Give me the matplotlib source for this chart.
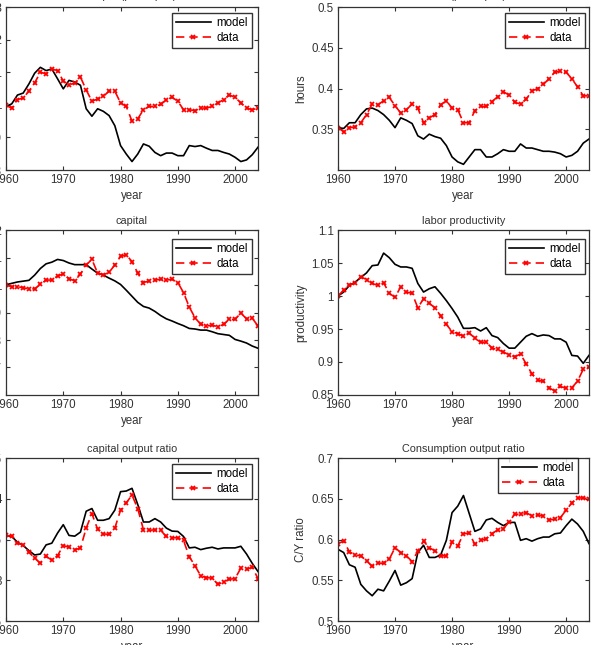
#model vs data, six panels
import matplotlib
matplotlib.use("Agg")
import matplotlib.pyplot as plt
from matplotlib.ticker import FuncFormatter

plt.rcParams['font.family'] = ['Liberation Sans', 'DejaVu Sans']
plt.rcParams['font.size'] = 8.3

years = list(range(1960, 2005))

#output
output_model = [0.995, 1.003, 1.03, 1.036, 1.064, 1.097, 1.115, 1.105, 1.11, 1.08,
                1.049, 1.075, 1.07, 1.06, 0.988, 0.965, 0.988, 0.98, 0.967, 0.936,
                0.875, 0.849, 0.826, 0.849, 0.88, 0.873, 0.854, 0.844, 0.852, 0.852,
                0.844, 0.844, 0.875, 0.872, 0.875, 0.867, 0.86, 0.86, 0.854, 0.849,
                0.839, 0.826, 0.831, 0.847, 0.87]
output_data = [0.998, 0.99, 1.016, 1.021, 1.042, 1.067, 1.1, 1.095, 1.11, 1.105,
               1.073, 1.062, 1.066, 1.085, 1.046, 1.011, 1.018, 1.026, 1.042, 1.042,
               1.006, 0.995, 0.95, 0.957, 0.985, 0.995, 0.995, 1.001, 1.016, 1.023,
               1.011, 0.985, 0.985, 0.982, 0.99, 0.99, 0.995, 1.006, 1.016, 1.03,
               1.023, 1.006, 0.99, 0.985, 0.99]

#hours
hours_model = [0.352, 0.351, 0.358, 0.358, 0.368, 0.375, 0.376, 0.373, 0.368, 0.361,
               0.352, 0.364, 0.361, 0.357, 0.342, 0.338, 0.344, 0.341, 0.339, 0.330,
               0.316, 0.310, 0.307, 0.316, 0.325, 0.325, 0.316, 0.316, 0.320, 0.325,
               0.323, 0.323, 0.332, 0.327, 0.327, 0.325, 0.323, 0.323, 0.322, 0.320,
               0.316, 0.318, 0.323, 0.333, 0.338]
hours_data = [0.352, 0.347, 0.352, 0.353, 0.358, 0.368, 0.381, 0.380, 0.385, 0.389,
              0.379, 0.370, 0.374, 0.381, 0.376, 0.358, 0.364, 0.368, 0.380, 0.385,
              0.376, 0.374, 0.358, 0.358, 0.373, 0.378, 0.378, 0.384, 0.390, 0.396,
              0.392, 0.383, 0.381, 0.387, 0.397, 0.400, 0.405, 0.412, 0.420, 0.421,
              0.420, 0.412, 0.402, 0.391, 0.391]

#capital
capital_model = [1.001, 1.006, 1.011, 1.014, 1.017, 1.036, 1.06, 1.077, 1.083, 1.093,
                 1.089, 1.08, 1.074, 1.074, 1.074, 1.058, 1.043, 1.036, 1.025, 1.015,
                 1.002, 0.981, 0.959, 0.937, 0.922, 0.916, 0.904, 0.889, 0.877, 0.869,
                 0.86, 0.852, 0.842, 0.84, 0.836, 0.836, 0.83, 0.823, 0.82, 0.817,
                 0.802, 0.796, 0.789, 0.778, 0.77]
capital_data = [0.999, 0.994, 0.994, 0.99, 0.986, 0.986, 1.002, 1.018, 1.018, 1.033,
                1.04, 1.023, 1.015, 1.04, 1.073, 1.093, 1.043, 1.037, 1.046, 1.073,
                1.104, 1.11, 1.085, 1.043, 1.009, 1.015, 1.018, 1.021, 1.018, 1.021,
                1.009, 0.972, 0.92, 0.881, 0.857, 0.851, 0.854, 0.848, 0.857, 0.875,
                0.875, 0.898, 0.877, 0.879, 0.851]

#labor productivity
prod_model = [1.0, 1.006, 1.016, 1.021, 1.028, 1.035, 1.046, 1.047, 1.065, 1.058,
              1.048, 1.044, 1.044, 1.042, 1.019, 1.006, 1.011, 1.014, 1.004, 0.993,
              0.981, 0.968, 0.951, 0.951, 0.952, 0.947, 0.952, 0.94, 0.937, 0.928,
              0.921, 0.921, 0.93, 0.939, 0.943, 0.939, 0.941, 0.94, 0.935, 0.935,
              0.93, 0.91, 0.909, 0.898, 0.91]
prod_data = [1.0, 1.009, 1.016, 1.02, 1.029, 1.025, 1.019, 1.016, 1.02, 1.004,
             0.998, 1.014, 1.006, 1.004, 0.982, 0.996, 0.989, 0.982, 0.97, 0.957,
             0.946, 0.943, 0.939, 0.944, 0.936, 0.93, 0.93, 0.921, 0.919, 0.915,
             0.911, 0.908, 0.912, 0.897, 0.882, 0.872, 0.871, 0.861, 0.856, 0.863,
             0.86, 0.861, 0.871, 0.889, 0.892]

#capital output ratio
ky_model = [3.55, 3.537, 3.467, 3.426, 3.364, 3.31, 3.322, 3.434, 3.455, 3.579,
            3.682, 3.55, 3.541, 3.591, 3.847, 3.88, 3.736, 3.736, 3.756, 3.86,
            4.087, 4.095, 4.128, 3.93, 3.715, 3.715, 3.756, 3.715, 3.64, 3.603,
            3.599, 3.537, 3.397, 3.405, 3.376, 3.393, 3.405, 3.384, 3.397, 3.397,
            3.397, 3.417, 3.322, 3.207, 3.107]
ky_data = [3.55, 3.541, 3.455, 3.434, 3.343, 3.273, 3.207, 3.293, 3.248, 3.302,
           3.426, 3.405, 3.376, 3.393, 3.64, 3.818, 3.624, 3.57, 3.562, 3.64,
           3.86, 3.95, 4.045, 3.88, 3.62, 3.612, 3.62, 3.612, 3.537, 3.521,
           3.521, 3.488, 3.289, 3.178, 3.054, 3.033, 3.025, 2.95, 2.979, 3.012,
           3.021, 3.149, 3.136, 3.157, 3.021]

#consumption output ratio
cy_model = [0.588, 0.584, 0.569, 0.566, 0.545, 0.537, 0.531, 0.539, 0.537, 0.549,
            0.562, 0.544, 0.547, 0.552, 0.584, 0.593, 0.578, 0.578, 0.581, 0.599,
            0.633, 0.641, 0.654, 0.632, 0.610, 0.613, 0.624, 0.626, 0.621, 0.617,
            0.621, 0.621, 0.599, 0.601, 0.598, 0.601, 0.603, 0.603, 0.607, 0.608,
            0.617, 0.625, 0.619, 0.610, 0.595]
cy_data = [0.595, 0.598, 0.585, 0.581, 0.580, 0.574, 0.567, 0.571, 0.571, 0.576,
           0.590, 0.584, 0.580, 0.573, 0.586, 0.598, 0.590, 0.586, 0.580, 0.580,
           0.597, 0.592, 0.607, 0.608, 0.594, 0.599, 0.601, 0.607, 0.612, 0.613,
           0.622, 0.631, 0.631, 0.633, 0.629, 0.630, 0.629, 0.624, 0.625, 0.627,
           0.636, 0.645, 0.651, 0.651, 0.650]

titles = ["output (per capita)", "hours (per capita)", "capital",
          "labor productivity", "capital output ratio", "Consumption output ratio"]
ylabels = ["output", "hours", "capital", "productivity", "K/Y ratio", "C/Y ratio"]
models = [output_model, hours_model, capital_model, prod_model, ky_model, cy_model]
datas = [output_data, hours_data, capital_data, prod_data, ky_data, cy_data]
ylims = [(0.8, 1.3), (0.3, 0.5), (0.6, 1.2), (0.85, 1.1), (2.5, 4.5), (0.5, 0.7)]
yticks = [[0.8, 0.9, 1.0, 1.1, 1.2, 1.3],
          [0.35, 0.4, 0.45, 0.5],
          [0.7, 0.8, 0.9, 1.0, 1.1, 1.2],
          [0.85, 0.9, 0.95, 1.0, 1.05, 1.1],
          [2.5, 3.0, 3.5, 4.0, 4.5],
          [0.5, 0.55, 0.6, 0.65, 0.7]]

#axes boxes in figure fractions (left, bottom, width, height)
boxes = [(0.010, 0.7364, 0.420, 0.2527), (0.5633, 0.7364, 0.4183, 0.2527),
         (0.010, 0.3876, 0.420, 0.2558), (0.5633, 0.3876, 0.4183, 0.2558),
         (0.010, 0.0372, 0.420, 0.2527), (0.5633, 0.0372, 0.4183, 0.2527)]
legend_pos = [(0.976, 0.963), (0.984, 0.963), (0.976, 0.945),
              (0.984, 0.945), (0.976, 0.963), (0.956, 1.0)]
title_pad = [5.5, 5.5, 4, 4, 4, 4]

axcol = '#333333'
fig = plt.figure(figsize=(6, 6.45), dpi=100)

for i in range(6):
    ax = fig.add_axes(boxes[i])
    ax.plot(years, models[i], color='black', lw=1.2, label='model')
    ax.plot(years, datas[i], color='red', ls='--', lw=1.2, marker='x',
            ms=3.5, mew=1.3, dashes=(5, 3), label='data')
    ax.set_xlim(1960, 2004)
    ax.set_ylim(ylims[i])
    ax.set_xticks([1960, 1970, 1980, 1990, 2000])
    ax.set_yticks(yticks[i])
    ax.yaxis.set_major_formatter(FuncFormatter(lambda v, p: '%g' % round(v, 3)))
    ax.tick_params(direction='in', top=True, right=True, length=3,
                   width=0.8, colors=axcol, labelcolor=axcol, pad=3)
    for s in ax.spines.values():
        s.set_linewidth(0.9)
        s.set_color(axcol)
    ax.set_title(titles[i], color=axcol, fontsize=7.8, pad=title_pad[i])
    ax.set_xlabel("year", color=axcol, labelpad=3)
    ax.set_ylabel(ylabels[i], color=axcol, labelpad=3)
    leg = ax.legend(loc='upper right', bbox_to_anchor=legend_pos[i],
                    borderaxespad=0, fancybox=False, handlelength=3.0,
                    handletextpad=0.5, borderpad=0.35, labelspacing=0.25,
                    numpoints=1)
    leg.get_frame().set_edgecolor('black')
    leg.get_frame().set_linewidth(1.0)

plt.savefig("out.png", dpi=100)
